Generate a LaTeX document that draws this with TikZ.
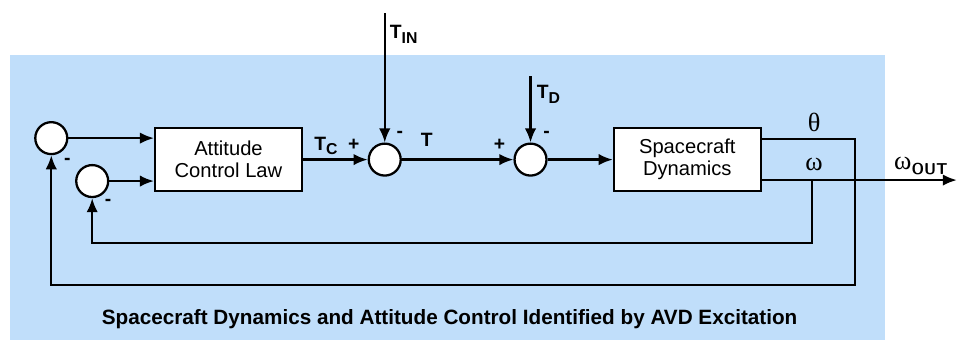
\documentclass[tikz,border=0pt]{standalone}
\usepackage{fontspec}
\setmainfont{Liberation Sans}
\newfontfamily\greekfont{Liberation Serif}
\usetikzlibrary{arrows.meta}
\usetikzlibrary{positioning}
\definecolor{panelblue}{RGB}{192,222,250}
\tikzstyle{block}=[rectangle,draw,fill=white,line width=1.3pt,minimum width=2.94cm,minimum height=1.26cm,align=center,font=\fontsize{11.5}{12.5}\selectfont]
\tikzstyle{summer}=[circle,draw,fill=white,line width=1.3pt,minimum size=0.64cm,inner sep=0pt]
\tikzstyle{wire}=[line width=1.3pt,-{Latex[length=8pt,width=6.5pt]}]
\tikzstyle{sig}=[font=\bfseries\fontsize{11}{13}\selectfont]
\tikzstyle{angle}=[font=\greekfont\fontsize{15}{16}\selectfont]
\newcommand{\lowsub}[1]{\raisebox{-0.45ex}{\fontsize{9}{10}\selectfont #1}}

\begin{document}
\begin{tikzpicture}[x=0.02cm,y=-0.02cm]

   \draw[fill=white,draw=white] (0,0) rectangle (958,340);
   \fill[panelblue] (10,55) rectangle (886,340);

    \node[block] (acl) at (228.5,159.5) {Attitude\\Control Law};
    \node[block] (dyn) at (688,159.5) {Spacecraft\\Dynamics};

    \foreach \pos/\name in {{(51,138)/outer}, {(92,181)/inner}, {(385,159.5)/cmd}, {(531,159.5)/dist}}
        \node[summer] (\name) at \pos {};

    \coordinate (tin) at (385,13);
    \coordinate (td) at (531,76);
    \coordinate (thetaTap) at (856,139);
    \coordinate (thetaLoop) at (856,285);
    \coordinate (omegaTap) at (813,180);
    \coordinate (omegaLoop) at (813,243);
    \coordinate (omegaOut) at (958,180);

    % forward path
    \draw[wire] (outer) -- (outer -| acl.west);
    \draw[wire] (inner) -- (inner -| acl.west);
    \foreach \source/\dest in {acl/cmd, cmd/dist, dist/dyn, tin/cmd, td/dist}
        \draw[wire] (\source) -- (\dest);

    % outputs and feedback
    \draw[wire] (thetaTap -| dyn.east) -- (thetaTap) -- (thetaLoop) -| (outer);
    \draw[wire] (omegaOut -| dyn.east) -- (omegaOut);
    \draw[wire] (omegaTap) -- (omegaLoop) -| (inner);

\node[sig] at (326,146) {T\lowsub{C}};
\node[sig] at (404,34) {T\lowsub{IN}};
\node[sig] at (427,140) {T};
\node[sig] at (549,94) {T\lowsub{D}};

\foreach \pos/\s in {{(354,145)/+}, {(500,145)/+}, {(400,134)/-}, {(547,134)/-}, {(67,161)/-}, {(108,202)/-}}
    \node[sig] at \pos {\s};

\node[angle] at (815,122) {θ};
\node[angle] at (815,164) {ω};
\node[angle] at (922,166) {ω\lowsub{\sffamily\bfseries OUT}};

  \node[font=\bfseries\fontsize{11.8}{13}\selectfont] at (450,319) {Spacecraft Dynamics and Attitude Control Identified by AVD Excitation};

\end{tikzpicture}
\end{document}
